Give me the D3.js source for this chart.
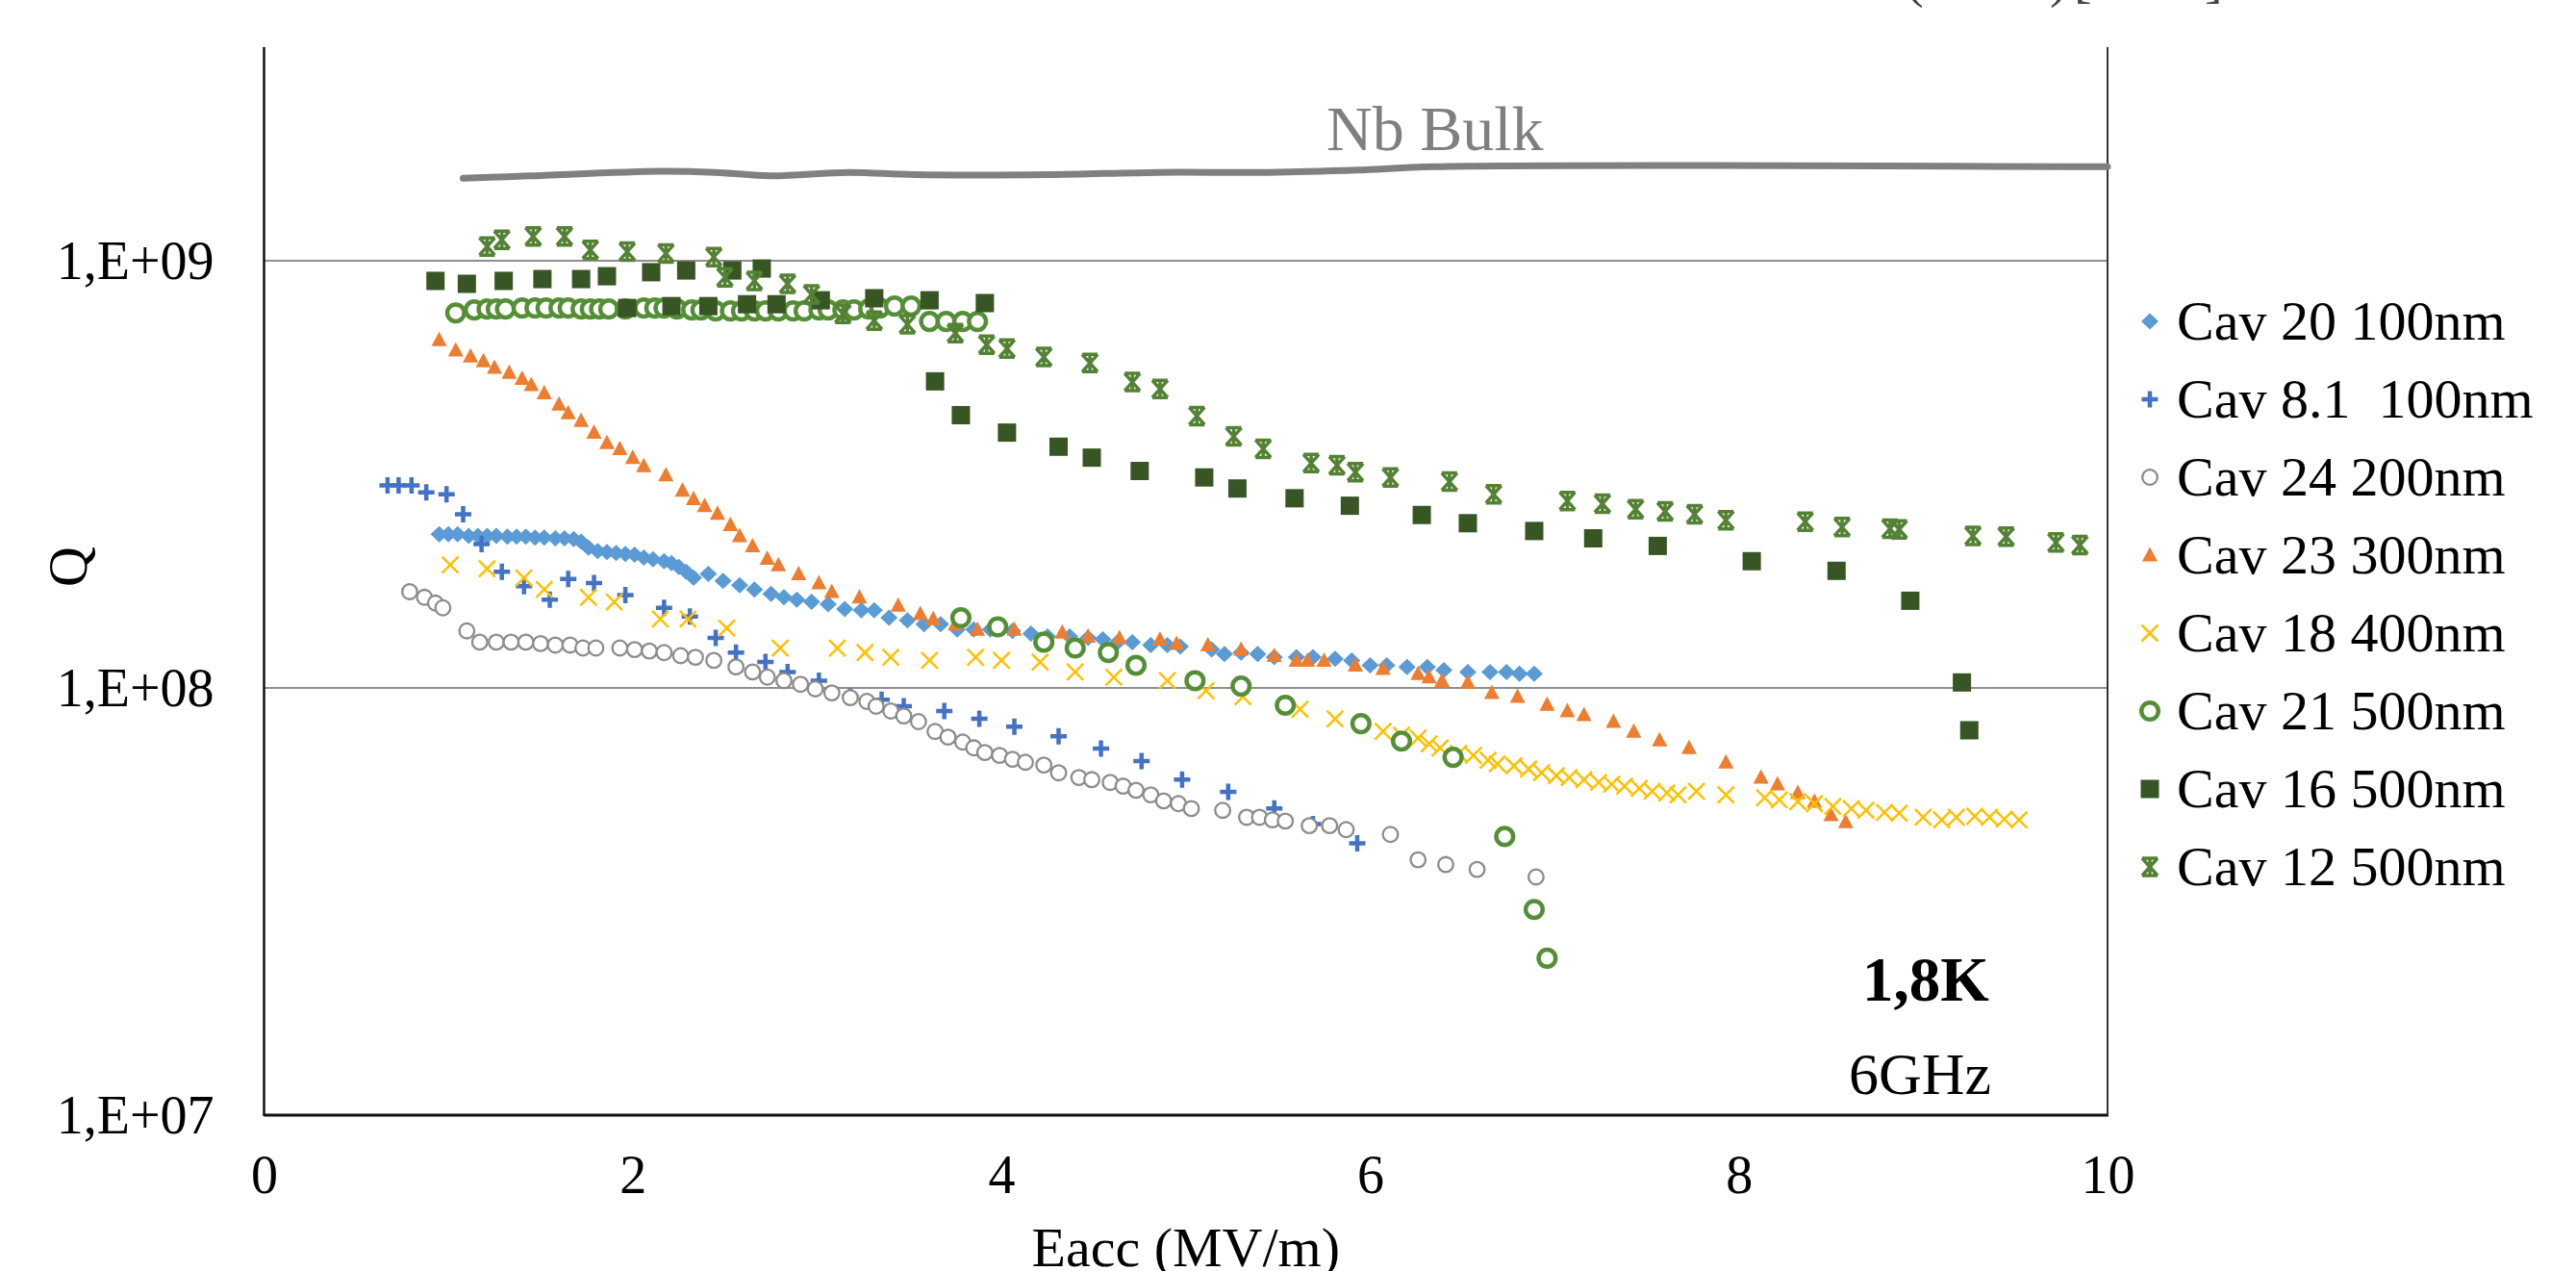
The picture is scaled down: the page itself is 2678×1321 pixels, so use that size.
<!DOCTYPE html>
<html>
<head>
<meta charset="utf-8">
<script src="https://cdn.jsdelivr.net/npm/d3@7"></script>
<style>
  body { margin: 0; background: #fff; }
  svg { display: block; font-family: "Liberation Serif", "Times New Roman", serif; }
</style>
</head>
<body>
<script>
// Q vs Eacc at 1,8K / 6GHz: [Eacc (MV/m), Q]
const cav20 = [[0.95,2.29e8],[1.00,2.29e8],[1.05,2.29e8],[1.11,2.27e8],[1.16,2.27e8],[1.21,2.27e8],[1.26,2.27e8],[1.32,2.26e8],[1.37,2.26e8],[1.42,2.26e8],[1.47,2.25e8],[1.52,2.25e8],[1.58,2.24e8],[1.63,2.24e8],[1.68,2.23e8],[1.72,2.20e8],[1.76,2.13e8],[1.81,2.09e8],[1.86,2.08e8],[1.91,2.07e8],[1.96,2.06e8],[2.01,2.05e8],[2.06,2.02e8],[2.11,2.00e8],[2.17,1.98e8],[2.21,1.96e8],[2.25,1.92e8],[2.29,1.87e8],[2.33,1.81e8],[2.41,1.85e8],[2.49,1.78e8],[2.58,1.74e8],[2.66,1.70e8],[2.75,1.66e8],[2.82,1.63e8],[2.89,1.61e8],[2.97,1.59e8],[3.06,1.57e8],[3.15,1.53e8],[3.24,1.52e8],[3.31,1.52e8],[3.39,1.46e8],[3.49,1.44e8],[3.58,1.41e8],[3.67,1.41e8],[3.76,1.37e8],[3.85,1.37e8],[3.94,1.37e8],[4.06,1.36e8],[4.16,1.34e8],[4.25,1.32e8],[4.37,1.32e8],[4.47,1.31e8],[4.55,1.30e8],[4.63,1.28e8],[4.71,1.28e8],[4.81,1.26e8],[4.90,1.26e8],[4.97,1.25e8],[5.14,1.23e8],[5.21,1.20e8],[5.30,1.21e8],[5.39,1.20e8],[5.48,1.18e8],[5.60,1.18e8],[5.69,1.18e8],[5.81,1.17e8],[5.90,1.16e8],[6.00,1.13e8],[6.09,1.13e8],[6.20,1.12e8],[6.31,1.12e8],[6.40,1.10e8],[6.53,1.09e8],[6.65,1.09e8],[6.74,1.09e8],[6.81,1.08e8],[6.89,1.08e8]];
const cav81 = [[0.67,2.98e8],[0.73,2.98e8],[0.80,2.98e8],[0.88,2.87e8],[0.99,2.84e8],[1.08,2.55e8],[1.18,2.17e8],[1.29,1.87e8],[1.41,1.73e8],[1.55,1.61e8],[1.65,1.80e8],[1.79,1.76e8],[1.96,1.65e8],[2.17,1.54e8],[2.31,1.47e8],[2.45,1.31e8],[2.56,1.21e8],[2.72,1.15e8],[2.84,1.09e8],[3.01,1.04e8],[3.18,9.54e7],[3.35,9.39e7],[3.47,9.06e7],[3.69,8.83e7],[3.88,8.47e7],[4.07,8.12e7],[4.31,7.71e7],[4.54,7.21e7],[4.76,6.74e7],[4.98,6.10e7],[5.23,5.71e7],[5.48,5.22e7],[5.69,4.80e7],[5.93,4.33e7]];
const cav24 = [[0.79,1.68e8],[0.87,1.63e8],[0.93,1.58e8],[0.97,1.54e8],[1.10,1.36e8],[1.17,1.28e8],[1.26,1.28e8],[1.34,1.28e8],[1.42,1.28e8],[1.50,1.27e8],[1.58,1.26e8],[1.66,1.26e8],[1.73,1.24e8],[1.80,1.24e8],[1.93,1.24e8],[2.01,1.23e8],[2.09,1.22e8],[2.17,1.21e8],[2.26,1.19e8],[2.34,1.18e8],[2.44,1.16e8],[2.56,1.12e8],[2.65,1.09e8],[2.73,1.06e8],[2.82,1.04e8],[2.91,1.02e8],[2.99,9.95e7],[3.08,9.74e7],[3.18,9.49e7],[3.27,9.30e7],[3.32,9.06e7],[3.40,8.83e7],[3.47,8.60e7],[3.55,8.34e7],[3.64,7.91e7],[3.71,7.67e7],[3.79,7.47e7],[3.85,7.24e7],[3.91,7.06e7],[3.99,6.95e7],[4.06,6.81e7],[4.13,6.70e7],[4.23,6.60e7],[4.31,6.33e7],[4.42,6.17e7],[4.49,6.10e7],[4.59,6.01e7],[4.66,5.89e7],[4.73,5.76e7],[4.81,5.62e7],[4.88,5.44e7],[4.96,5.36e7],[5.03,5.22e7],[5.20,5.17e7],[5.33,4.98e7],[5.40,4.98e7],[5.47,4.91e7],[5.54,4.88e7],[5.67,4.76e7],[5.78,4.76e7],[5.87,4.66e7],[6.11,4.54e7],[6.26,3.96e7],[6.41,3.86e7],[6.58,3.76e7],[6.90,3.61e7]];
const cav23 = [[0.95,6.53e8],[1.04,6.17e8],[1.12,5.98e8],[1.19,5.82e8],[1.25,5.62e8],[1.33,5.47e8],[1.40,5.30e8],[1.45,5.12e8],[1.52,4.90e8],[1.60,4.61e8],[1.65,4.40e8],[1.72,4.22e8],[1.79,3.96e8],[1.86,3.75e8],[1.93,3.63e8],[2.00,3.46e8],[2.06,3.31e8],[2.18,3.15e8],[2.27,2.90e8],[2.33,2.77e8],[2.39,2.67e8],[2.46,2.56e8],[2.53,2.41e8],[2.58,2.27e8],[2.65,2.15e8],[2.73,2.01e8],[2.79,1.94e8],[2.90,1.85e8],[3.01,1.76e8],[3.08,1.68e8],[3.23,1.63e8],[3.44,1.56e8],[3.56,1.49e8],[3.63,1.45e8],[3.75,1.41e8],[3.87,1.37e8],[4.07,1.37e8],[4.33,1.35e8],[4.47,1.32e8],[4.64,1.31e8],[4.86,1.30e8],[4.95,1.27e8],[5.12,1.26e8],[5.30,1.23e8],[5.48,1.19e8],[5.60,1.16e8],[5.66,1.16e8],[5.75,1.16e8],[5.92,1.13e8],[6.07,1.11e8],[6.26,1.08e8],[6.32,1.06e8],[6.39,1.04e8],[6.53,1.03e8],[6.66,9.74e7],[6.80,9.54e7],[6.96,9.15e7],[7.07,8.83e7],[7.16,8.65e7],[7.32,8.34e7],[7.43,7.91e7],[7.57,7.55e7],[7.73,7.24e7],[7.93,6.70e7],[8.12,6.17e7],[8.21,5.95e7],[8.32,5.68e7],[8.41,5.42e7],[8.50,5.04e7],[8.58,4.86e7]];
const cav18 = [[1.01,1.94e8],[1.21,1.90e8],[1.41,1.81e8],[1.52,1.70e8],[1.76,1.63e8],[1.90,1.59e8],[2.15,1.45e8],[2.30,1.45e8],[2.51,1.38e8],[2.80,1.24e8],[3.11,1.24e8],[3.26,1.21e8],[3.40,1.18e8],[3.61,1.16e8],[3.86,1.18e8],[4.00,1.16e8],[4.21,1.15e8],[4.40,1.09e8],[4.61,1.06e8],[4.90,1.04e8],[5.11,9.85e7],[5.31,9.54e7],[5.62,8.92e7],[5.81,8.47e7],[6.07,7.91e7],[6.17,7.75e7],[6.26,7.63e7],[6.32,7.40e7],[6.38,7.24e7],[6.48,7.02e7],[6.56,6.95e7],[6.64,6.77e7],[6.69,6.64e7],[6.78,6.57e7],[6.86,6.46e7],[6.93,6.33e7],[7.01,6.23e7],[7.08,6.17e7],[7.16,6.10e7],[7.24,6.01e7],[7.31,5.95e7],[7.38,5.89e7],[7.46,5.82e7],[7.53,5.73e7],[7.61,5.68e7],[7.67,5.62e7],[7.77,5.73e7],[7.93,5.62e7],[8.14,5.53e7],[8.22,5.47e7],[8.32,5.42e7],[8.41,5.36e7],[8.51,5.28e7],[8.61,5.22e7],[8.69,5.17e7],[8.79,5.11e7],[8.87,5.09e7],[9.00,4.98e7],[9.10,4.91e7],[9.18,4.98e7],[9.28,5.01e7],[9.36,4.98e7],[9.44,4.93e7],[9.52,4.91e7]];
const cav21 = [[1.04,7.55e8],[1.14,7.67e8],[1.21,7.71e8],[1.26,7.71e8],[1.31,7.71e8],[1.40,7.75e8],[1.47,7.75e8],[1.53,7.75e8],[1.60,7.75e8],[1.65,7.75e8],[1.72,7.71e8],[1.77,7.71e8],[1.82,7.71e8],[1.87,7.71e8],[1.96,7.71e8],[2.06,7.75e8],[2.12,7.75e8],[2.17,7.75e8],[2.24,7.71e8],[2.32,7.67e8],[2.37,7.67e8],[2.45,7.63e8],[2.53,7.63e8],[2.59,7.63e8],[2.66,7.63e8],[2.72,7.63e8],[2.79,7.63e8],[2.87,7.63e8],[2.93,7.63e8],[3.01,7.67e8],[3.06,7.67e8],[3.14,7.67e8],[3.20,7.67e8],[3.28,7.71e8],[3.34,7.75e8],[3.42,7.83e8],[3.51,7.83e8],[3.61,7.21e8],[3.70,7.21e8],[3.79,7.21e8],[3.87,7.21e8],
  [3.78,1.46e8],[3.98,1.39e8],[4.23,1.28e8],[4.40,1.24e8],[4.58,1.21e8],[4.73,1.13e8],[5.05,1.04e8],[5.30,1.01e8],[5.54,9.11e7],[5.95,8.25e7],[6.17,7.51e7],[6.45,6.88e7],[6.73,4.49e7],[6.89,3.03e7],[6.96,2.33e7]];
const cav16 = [[0.93,8.97e8],[1.10,8.83e8],[1.30,8.97e8],[1.51,9.06e8],[1.72,9.06e8],[1.86,9.20e8],[2.10,9.40e8],[2.29,9.49e8],[2.54,9.49e8],[2.70,9.59e8],[1.97,7.75e8],[2.21,7.83e8],[2.41,7.83e8],[2.62,7.91e8],[2.78,7.91e8],[3.02,8.08e8],[3.31,8.17e8],[3.61,8.08e8],[3.91,7.96e8],[3.64,5.22e8],[3.78,4.35e8],[4.03,3.96e8],[4.31,3.67e8],[4.49,3.46e8],[4.75,3.22e8],[5.10,3.11e8],[5.28,2.93e8],[5.59,2.78e8],[5.89,2.67e8],[6.28,2.54e8],[6.53,2.43e8],[6.89,2.33e8],[7.21,2.24e8],[7.56,2.15e8],[8.07,1.98e8],[8.53,1.88e8],[8.93,1.60e8],[9.21,1.03e8],[9.25,7.96e7]];
const cav12 = [[1.21,1.08e9],[1.29,1.12e9],[1.46,1.14e9],[1.63,1.14e9],[1.77,1.06e9],[1.97,1.05e9],[2.18,1.04e9],[2.44,1.02e9],[2.50,9.15e8],[2.66,8.97e8],[2.84,8.83e8],[2.97,8.34e8],[3.14,7.51e8],[3.31,7.24e8],[3.49,7.10e8],[3.75,6.77e8],[3.92,6.36e8],[4.03,6.23e8],[4.23,5.95e8],[4.48,5.76e8],[4.71,5.20e8],[4.86,5.01e8],[5.06,4.33e8],[5.26,3.88e8],[5.42,3.63e8],[5.68,3.36e8],[5.82,3.32e8],[5.92,3.20e8],[6.11,3.11e8],[6.43,3.04e8],[6.67,2.84e8],[7.07,2.74e8],[7.26,2.70e8],[7.44,2.62e8],[7.60,2.59e8],[7.76,2.55e8],[7.93,2.47e8],[8.36,2.45e8],[8.56,2.38e8],[8.82,2.36e8],[8.87,2.35e8],[9.27,2.27e8],[9.45,2.26e8],[9.72,2.19e8],[9.85,2.16e8]];
const nbBulk = [[1.08,1.56e9],[1.44,1.58e9],[2.15,1.62e9],[2.45,1.61e9],[2.75,1.58e9],[3.17,1.61e9],[3.53,1.59e9],[4.25,1.59e9],[4.85,1.61e9],[5.45,1.61e9],[5.93,1.63e9],[6.35,1.66e9],[10.0,1.66e9]];

const seriesNames = ["Cav 20 100nm", "Cav 8.1  100nm", "Cav 24 200nm", "Cav 23 300nm", "Cav 18 400nm", "Cav 21 500nm", "Cav 16 500nm", "Cav 12 500nm"];
const seriesData = [cav20, cav81, cav24, cav23, cav18, cav21, cav16, cav12];
const seriesColors = ["#5b9bd5", "#4472c4", "#8c8c8c", "#ed7d31", "#ffc000", "#548f36", "#375623", "#548235"];
const seriesMarkers = ["diamond", "plus", "ring", "triangle", "cross", "thickring", "square", "star"];

const xTicks = [0, 2, 4, 6, 8, 10];
const yTicks = [1e7, 1e8, 1e9];

const W = 2678, H = 1321;
const plotL = 274.5, plotR = 2191, plotT = 49, plotB = 1159;

const svg = d3.select("body").append("svg")
    .attr("width", W)
    .attr("height", H);

const x = d3.scaleLinear().domain([0, 10]).range([plotL, plotR]);
const y = d3.scaleLog().domain([1e7, Math.pow(10, 9.5)]).range([plotB, plotT]);

// gridlines
svg.append("g")
    .selectAll("line")
    .data(yTicks.slice(1))
    .join("line")
    .attr("x1", plotL).attr("x2", plotR)
    .attr("y1", d => y(d)).attr("y2", d => y(d))
    .attr("stroke", "#8f8f8f")
    .attr("stroke-width", 2);

// axes (labels only, lines drawn by hand)
const xAxis = svg.append("g")
    .attr("transform", "translate(0," + plotB + ")")
    .call(d3.axisBottom(x).tickValues(xTicks).tickSize(0).tickFormat(d3.format("d")));
xAxis.select(".domain").remove();
xAxis.selectAll("text")
    .attr("y", 81).attr("dy", null)
    .style("font-size", "56px")
    .style("font-family", "Liberation Serif")
    .attr("fill", "#000");

const yAxis = svg.append("g")
    .attr("transform", "translate(" + plotL + ",0)")
    .call(d3.axisLeft(y).tickValues(yTicks).tickSize(0).tickPadding(52)
        .tickFormat(d => "1,E+" + String(Math.round(Math.log10(d))).padStart(2, "0")));
yAxis.select(".domain").remove();
yAxis.selectAll("text")
    .attr("dy", null).attr("y", 18)
    .style("font-size", "56px")
    .style("font-family", "Liberation Serif")
    .attr("fill", "#000");

svg.append("line").attr("x1", plotL).attr("x2", plotL).attr("y1", plotT).attr("y2", plotB + 1)
    .attr("stroke", "#111").attr("stroke-width", 2.5);
svg.append("line").attr("x1", plotL).attr("x2", plotR + 1).attr("y1", plotB).attr("y2", plotB)
    .attr("stroke", "#111").attr("stroke-width", 3);
svg.append("line").attr("x1", plotR).attr("x2", plotR).attr("y1", plotT).attr("y2", plotB)
    .attr("stroke", "#333").attr("stroke-width", 2);

// axis titles
svg.append("text")
    .attr("x", (plotL + plotR) / 2).attr("y", 1316)
    .attr("text-anchor", "middle")
    .style("font-size", "58px")
    .text("Eacc (MV/m)");

svg.append("text")
    .attr("transform", "translate(90,589) rotate(-90)")
    .attr("text-anchor", "middle")
    .style("font-size", "58px")
    .text("Q");

// Nb bulk reference curve
const bulkLine = d3.line().x(d => x(d[0])).y(d => y(d[1])).curve(d3.curveCatmullRom);
svg.append("path")
    .datum(nbBulk)
    .attr("d", bulkLine)
    .attr("fill", "none")
    .attr("stroke", "#808080")
    .attr("stroke-width", 7)
    .attr("stroke-linecap", "round");

svg.append("text")
    .attr("x", 1379).attr("y", 156)
    .attr("fill", "#7f7f7f")
    .style("font-size", "66px")
    .text("Nb Bulk");

// marker drawing
function drawMarker(sel, type, color) {
    if (type === "diamond") {
        sel.append("path").attr("d", "M0,-8.5L9,0L0,8.5L-9,0Z").attr("fill", color);
    } else if (type === "plus") {
        sel.append("path").attr("d", "M-8.5,0H8.5M0,-8.5V8.5").attr("stroke", color).attr("stroke-width", 4.5);
    } else if (type === "ring") {
        sel.append("circle").attr("r", 7.8).attr("fill", "#fff").attr("stroke", color).attr("stroke-width", 2.3);
    } else if (type === "triangle") {
        sel.append("path").attr("d", "M0,-8.5L8,6.5L-8,6.5Z").attr("fill", color);
    } else if (type === "cross") {
        sel.append("path").attr("d", "M-8.5,-8.5L8.5,8.5M-8.5,8.5L8.5,-8.5").attr("stroke", color).attr("stroke-width", 2.5);
    } else if (type === "thickring") {
        sel.append("circle").attr("r", 8.8).attr("fill", "#fff").attr("stroke", color).attr("stroke-width", 4.5);
    } else if (type === "square") {
        sel.append("rect").attr("x", -9.5).attr("y", -9.5).attr("width", 19).attr("height", 19).attr("fill", color);
    } else if (type === "star") {
        sel.append("path").attr("d", "M-8,-9L8,9M-8,9L8,-9M-8,-9H8M-8,9H8M0,-9V9")
            .attr("stroke", color).attr("stroke-width", 3.5);
    }
}

seriesData.forEach((data, i) => {
    svg.append("g")
        .selectAll("g")
        .data(data)
        .join("g")
        .attr("transform", d => "translate(" + x(d[0]) + "," + y(d[1]) + ")")
        .each(function() { drawMarker(d3.select(this), seriesMarkers[i], seriesColors[i]); });
});

// legend
const legend = svg.append("g")
    .selectAll("g")
    .data(seriesNames)
    .join("g")
    .attr("transform", (d, i) => "translate(2235," + (353 + 81 * i) + ")");
legend.append("g")
    .attr("transform", "translate(0,-19)")
    .each(function(d, i) { drawMarker(d3.select(this), seriesMarkers[i], seriesColors[i]); });
legend.append("text")
    .attr("x", 28)
    .style("font-size", "58px")
    .style("white-space", "pre")
    .text(d => d);

// annotations
svg.append("text")
    .attr("x", 2002).attr("y", 1040)
    .attr("text-anchor", "middle")
    .style("font-size", "65px").style("font-weight", "bold")
    .text("1,8K");
svg.append("text")
    .attr("x", 1996).attr("y", 1137)
    .attr("text-anchor", "middle")
    .style("font-size", "62px")
    .text("6GHz");

// clipped caption fragment at the very top
const cap = svg.append("text").attr("y", -4).style("font-size", "56px").attr("fill", "#444");
[["(", 1981], [")", 2131], ["[", 2156], ["]", 2292]].forEach(p => {
    cap.append("tspan").attr("x", p[1]).text(p[0]);
});
</script>
</body>
</html>
